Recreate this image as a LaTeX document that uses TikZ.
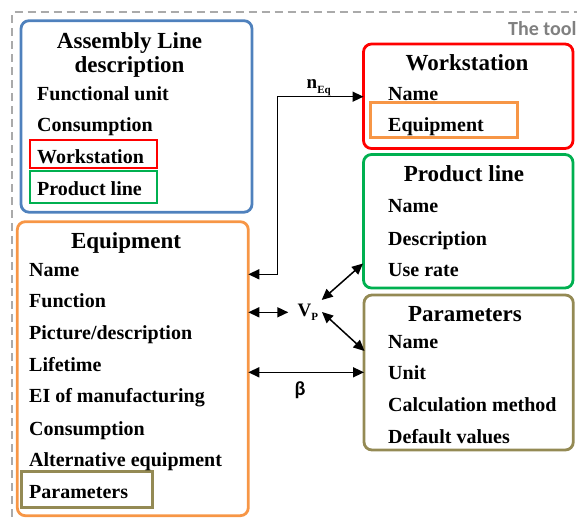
\documentclass[tikz,border=0pt]{standalone}
\usepackage{fontspec}
\setmainfont{Liberation Serif}
\newfontfamily\calfont{Carlito}
\usetikzlibrary{arrows.meta}
\definecolor{blueC}{RGB}{79,129,189}
\definecolor{redC}{RGB}{255,0,0}
\definecolor{greenC}{RGB}{0,176,80}
\definecolor{orangeC}{RGB}{247,150,70}
\definecolor{oliveC}{RGB}{148,138,84}
\definecolor{grayC}{RGB}{170,170,170}
\definecolor{toolC}{RGB}{128,128,128}
\begin{document}
\begin{tikzpicture}[x=1pt,y=-1pt,
 box/.style={draw=#1, line width=2.8pt, rounded corners=8pt, inner sep=0pt, outer sep=0pt, anchor=north west},
 hl/.style={draw=#1, line width=2.6pt, inner sep=0pt, outer sep=0pt, anchor=north west},
 item/.style={font=\fontsize{20}{24}\selectfont\bfseries, inner sep=0pt, anchor=base west},
 ttl/.style={font=\fontsize{23}{27}\selectfont\bfseries, inner sep=0pt, anchor=base},
 dbl/.style={{Triangle[length=11pt,width=10pt]}-{Triangle[length=11pt,width=10pt]}, line width=1.5pt},
]
\useasboundingbox (0,0) rectangle (577,519);
% dashed frame
\draw[grayC, line width=1.8pt, dash pattern=on 8pt off 5pt] (12.3,530) -- (12.3,12.3) -- (600,12.3);
\node[font=\calfont\fontsize{20}{24}\selectfont\bfseries, text=toolC, anchor=base west, inner sep=0pt] (tool) at (508,35) {The tool};

% boxes
\node[box=blueC, minimum width=231pt, minimum height=191.5pt] (al) at (21,20.7) {};
\node[box=redC, minimum width=209.5pt, minimum height=104.5pt] (ws) at (363.5,44) {};
\node[box=greenC, minimum width=209.5pt, minimum height=133.5pt] (pl) at (363.5,154.5) {};
\node[box=oliveC, minimum width=209.3pt, minimum height=155pt] (pa) at (364,295) {};
\node[box=orangeC, minimum width=231pt, minimum height=294pt] (eq) at (17.3,221.7) {};

% highlight frames
\node[hl=redC, minimum width=127pt, minimum height=28pt] (hlws) at (30,140) {};
\node[hl=greenC, minimum width=127pt, minimum height=32pt] (hlpl) at (30,171) {};
\node[hl=orangeC, minimum width=147pt, minimum height=35pt] (hleq) at (370.7,102.7) {};
\node[hl=oliveC, minimum width=130.6pt, minimum height=36pt] (hlpa) at (21.7,471.7) {};

% Assembly line
\node[ttl] (alt1) at (129.5,48.3) {Assembly Line};
\node[ttl] (alt2) at (129.5,72.7) {description};
\node[item] (al1) at (37,100) {Functional unit};
\node[item] (al2) at (37,131.7) {Consumption};
\node[item] (al3) at (37,163) {Workstation};
\node[item] (al4) at (37,195) {Product line};

% Workstation
\node[ttl] (wst) at (467,70.7) {Workstation};
\node[item] (ws1) at (388,100) {Name};
\node[item] (ws2) at (388,131.7) {Equipment};

% Product line
\node[ttl] (plt) at (464,181.7) {Product line};
\node[item] (pl1) at (388,212.7) {Name};
\node[item] (pl2) at (388,245) {Description};
\node[item] (pl3) at (388,276.7) {Use rate};

% Parameters
\node[ttl] (pat) at (465,321.7) {Parameters};
\node[item] (pa1) at (388,348.3) {Name};
\node[item] (pa2) at (388,379.3) {Unit};
\node[item] (pa3) at (388,411.7) {Calculation method};
\node[item] (pa4) at (388,443.3) {Default values};

% Equipment
\node[ttl] (eqt) at (126,248.3) {Equipment};
\node[item] (eq1) at (29,276) {Name};
\node[item] (eq2) at (29,307.7) {Function};
\node[item] (eq3) at (29,339.3) {Picture/description};
\node[item] (eq4) at (29,371) {Lifetime};
\node[item] (eq5) at (29,402.7) {EI of manufacturing};
\node[item] (eq6) at (29,435) {Consumption};
\node[item] (eq7) at (29,466.7) {Alternative equipment};
\node[item] (eq8) at (29,498.3) {Parameters};

% connectors
\coordinate (bend1) at (277.3,274.3);
\coordinate (bend2) at (277.3,96.7);
\draw[dbl] (eq.east |- bend1) -- (bend1) -- (bend2) -- (ws.west |- bend2);
\node[font=\fontsize{19}{22}\selectfont\bfseries, anchor=base west, inner sep=0pt] (neq) at (306.5,88) {n\raisebox{-5pt}{\fontsize{11}{11}\selectfont Eq}};

\node[font=\fontsize{19}{22}\selectfont\bfseries, anchor=base west, inner sep=0pt] (vp) at (297.5,316.7) {V\raisebox{-3.3pt}{\fontsize{11}{11}\selectfont P}};
\coordinate (vpl) at (288.3,312.3);
\draw[dbl] (eq.east |- vpl) -- (vpl);
\coordinate (vpa) at (321.7,300);
\coordinate (pla) at (363,263.5);
\draw[dbl] (vpa) -- (pla);
\coordinate (vpb) at (322,312);
\coordinate (paa) at (364.5,351);
\draw[dbl] (vpb) -- (paa);

\coordinate (bt) at (300,372.3);
\draw[dbl] (eq.east |- bt) -- (pa.west |- bt);
\node[font=\calfont\fontsize{20}{24}\selectfont\bfseries, inner sep=0pt] (beta) at (300,390) {β};
\end{tikzpicture}
\end{document}
